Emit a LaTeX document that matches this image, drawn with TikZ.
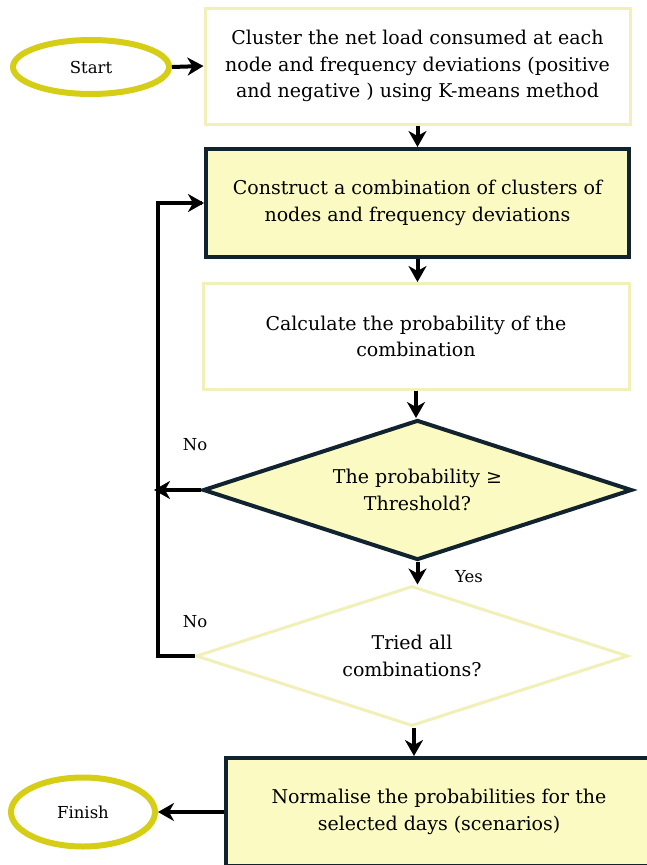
\documentclass[tikz,border=0pt]{standalone}
\usepackage{fontspec}
\setmainfont{DejaVu Serif}
\usetikzlibrary{shapes.geometric,arrows.meta}
\definecolor{ellyellow}{HTML}{D6CE16}
\definecolor{palefill}{HTML}{FAFAC2}
\definecolor{paleborder}{HTML}{F0F0B8}
\definecolor{darkborder}{HTML}{10232F}
\tikzset{
  x=1pt, y=1pt,
  txt/.style={font=\fontsize{19}{26.5}\selectfont, align=center, text=black},
  small/.style={font=\fontsize{16.5}{20}\selectfont, text=black},
  terminal/.style={ellipse, draw=ellyellow, line width=6pt, fill=white, small, inner sep=0pt},
  lightbox/.style={rectangle, draw=paleborder, line width=3pt, fill=white, txt, inner sep=0pt},
  darkbox/.style={rectangle, draw=darkborder, line width=4pt, fill=palefill, txt, inner sep=0pt},
  darkdiamond/.style={diamond, draw=darkborder, line width=4pt, fill=palefill, txt, inner sep=0pt, shape aspect=3},
  lightdiamond/.style={diamond, draw=paleborder, line width=3pt, fill=white, txt, inner sep=0pt, shape aspect=3},
  flow/.style={line width=4pt, -{Stealth[length=16pt,width=18pt,inset=5pt]}},
  plain/.style={line width=4pt},
}
\begin{document}
\begin{tikzpicture}
\useasboundingbox (0,0) rectangle (646,-865);
\fill[white] (0,0) rectangle (646,-865);

\node[terminal, minimum width=156, minimum height=54] (start) at (91,-67) {Start};
\node[lightbox, minimum width=425, minimum height=116] (box1) at (417.5,-66)
  {Cluster the net load consumed at each\\node and frequency deviations (positive\\and negative ) using K-means method};
\node[darkbox, minimum width=423, minimum height=108] (box2) at (417.5,-203)
  {Construct a combination of clusters of\\nodes and frequency deviations};
\node[lightbox, minimum width=426, minimum height=106] (box3) at (416,-336.5)
  {Calculate the probability of the\\combination};
\node[darkdiamond, minimum width=429, minimum height=140] (d1) at (417.5,-490)
  {The probability ≥\\Threshold?};
\node[lightdiamond, minimum width=432, minimum height=140] (d2) at (412,-656)
  {Tried all\\combinations?};
\node[darkbox, minimum width=426, minimum height=108] (box4) at (439,-812)
  {Normalise the probabilities for the\\selected days (scenarios)};
\node[terminal, minimum width=144, minimum height=69] (finish) at (83,-812) {Finish};

\coordinate (loopB) at (158,-656);
\coordinate (loopT) at (158,-203);
\coordinate (noend) at (154,-490);

\draw[flow] (start.east) -- (box1.west);
\draw[flow] (box1.south) -- (box1.south |- box2.north);
\draw[flow] (box2.south) -- (box2.south |- box3.north);
\draw[flow] (box3.south) -- (box3.south |- d1.north);
\draw[flow] (d1.west) -- (noend);
\draw[flow] (d1.south) -- (d1.south |- d2.north);
\draw[flow] ([xshift=2pt]d2.south) -- ([xshift=2pt]d2.south |- box4.north);
\draw[flow] (box4.west) -- (finish.east);
\draw[plain, line join=miter] (d2.west) -- (loopB) -- (loopT) -- ([xshift=-2pt]box2.west);
\draw[flow] ([xshift=-12pt]box2.west) -- (box2.west);

\node[small] (no1) at (195,-445) {No};
\node[small] (no2) at (195,-622) {No};
\node[small] (yes) at (469,-577) {Yes};
\end{tikzpicture}
\end{document}
